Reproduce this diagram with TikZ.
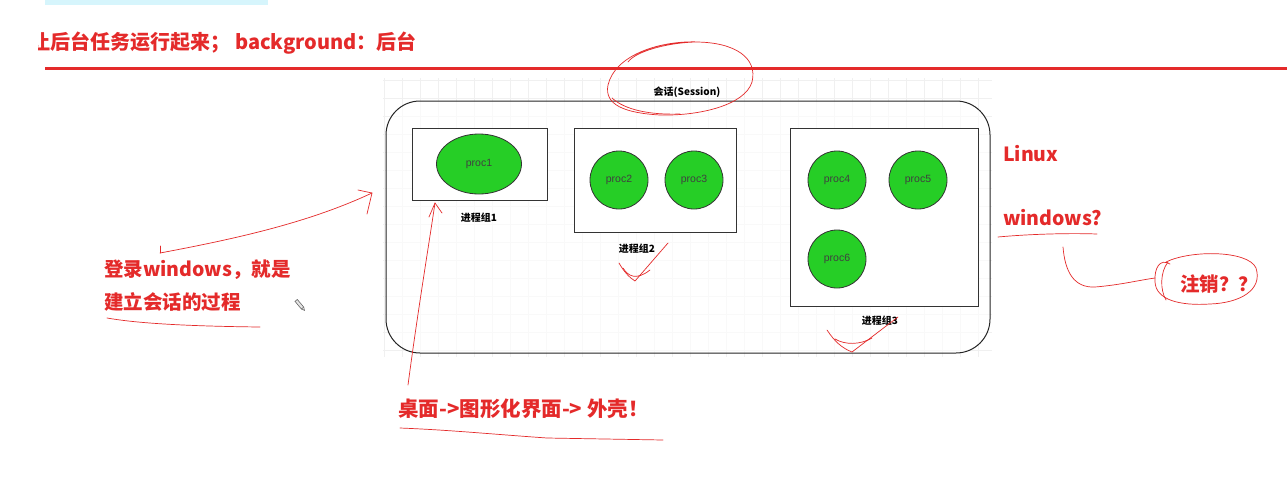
\documentclass[tikz,border=0pt]{standalone}
\usepackage{fontspec}
\setmainfont{Liberation Sans}
\newfontfamily\cjk{Noto Sans CJK SC}
\usetikzlibrary{shapes.geometric}
\definecolor{hand}{RGB}{228,42,42}
\definecolor{pgreen}{RGB}{38,206,38}
\definecolor{cyanbar}{RGB}{214,245,252}
\begin{document}
\begin{tikzpicture}[x=1pt,y=-1pt,
 redtxt/.style={text=hand, font=\cjk\bfseries\fontsize{19.5}{22}\selectfont, inner sep=0pt},
 proc/.style={circle, draw=black!80, fill=pgreen, minimum size=58pt, inner sep=0pt, font=\fontsize{10.5}{12}\selectfont, text=black!75, line width=0.8pt},
 grp/.style={draw=black!80, line width=0.8pt},
 glabel/.style={font=\cjk\bfseries\fontsize{10}{12}\selectfont, inner sep=0pt},
 pen/.style={draw=hand, line width=0.7pt, line cap=round, line join=round},
]
\useasboundingbox (0,0) rectangle (1287,477);
\fill[white] (0,0) rectangle (1287,477);
% top cyan bar
\fill[cyanbar] (45,0) rectangle (268,5);
% title with clipped first character
\begin{scope}
\clip (38,20) rectangle (600,66);
\node[redtxt, font=\cjk\bfseries\fontsize{20}{22}\selectfont, anchor=east] (title) at (417,43) {让后台任务运行起来； background：后台};
\end{scope}
\draw[hand, line width=3pt] (45,68) -- (1287,68);
% faint grid
\foreach \gx in {384,402,...,990} \draw[black!6, line width=0.4pt] (\gx,78) -- (\gx,357);
\foreach \gy in {80,98,...,356} \draw[black!6, line width=0.4pt] (383,\gy) -- (992,\gy);
% session
\node[draw=black!85, line width=1pt, rounded corners=34pt, minimum width=604pt, minimum height=252pt, fill=white, fill opacity=0.6] (session) at (688,227) {};
\node[glabel] (slabel) at (687,92) {会话(Session)};
% groups
\node[grp, fill=white, minimum width=135pt, minimum height=72pt] (g1) at (479.5,164) {};
\node[grp, fill=white, minimum width=162pt, minimum height=104pt] (g2) at (655,180) {};
\node[grp, fill=white, minimum width=188pt, minimum height=178pt] (g3) at (884,217) {};
\node[glabel] (l1) at (479,218) {进程组1};
\node[glabel] (l2) at (637,249) {进程组2};
\node[glabel] (l3) at (880,321) {进程组3};
% processes
\node[proc, ellipse, minimum width=85pt, minimum height=60pt] (p1) at (479,164) {proc1};
\node[proc] (p2) at (619,180) {proc2};
\node[proc] (p3) at (694,180) {proc3};
\node[proc] (p4) at (837,180) {proc4};
\node[proc] (p5) at (918,180) {proc5};
\node[proc] (p6) at (837,259) {proc6};
% red annotations
\node[redtxt, anchor=west] (linux) at (1003,154) {Linux};
\node[redtxt, anchor=west] (win) at (1003,218) {windows?};
\node[redtxt, anchor=west] (zx) at (1180,284) {注销？？};
\node[redtxt, anchor=west] (login1) at (104,270) {登录windows，就是};
\node[redtxt, anchor=west] (login2) at (104,302) {建立会话的过程};
\node[redtxt, font=\cjk\bfseries\fontsize{20.5}{22}\selectfont, anchor=west] (desk) at (398,409) {桌面->图形化界面-> 外壳！};
% pencil icon
\begin{scope}[shift={(300,305)}, rotate=-50]
\draw[black!60, line width=0.6pt, fill=black!10] (-6,-1.5) rectangle (4,1.5);
\draw[black!60, line width=0.6pt] (4,-1.5) -- (7,0) -- (4,1.5);
\end{scope}
% hand drawn loop around the session label
\coordinate (sl0) at (700,42);
\draw[pen] (sl0) .. controls (660,40) and (615,55) .. (608,85)
  .. controls (604,105) and (625,113) .. (660,115)
  .. controls (700,116) and (745,105) .. (752,82)
  .. controls (758,58) and (735,42) .. (695,42)
  .. controls (665,43) and (635,52) .. (628,62);
\draw[pen] (612,98) .. controls (625,110) and (650,115) .. (680,114);
% arrow login -> session
\coordinate (la) at (160,253);
\coordinate (lb) at (372,193);
\draw[pen] (la) -- (160,246);
\draw[pen] (la) .. controls (240,238) and (310,222) .. (lb);
\draw[pen] (358,190) -- (lb) -- (367,214);
\draw[pen] (107,318) .. controls (130,322) and (170,326) .. (260,327);
% arrow desk -> g1
\coordinate (da) at (408,385);
\coordinate (db) at (435,203);
\draw[pen] (da) .. controls (418,310) and (428,250) .. (db);
\draw[pen] (429,217) -- (db) -- (442,213);
\draw[pen] (400,428) .. controls (450,430) and (490,434) .. (547,438) -- (663,440);
% check marks
\draw[pen] (619,263) .. controls (624,272) and (630,278) .. (635,281) -- (668,243);
\draw[pen] (623,268) .. controls (628,276) and (636,281) .. (650,270);
\draw[pen] (827,330) .. controls (835,342) and (842,348) .. (852,352) -- (898,317);
\draw[pen] (835,339) .. controls (845,345) and (860,345) .. (872,338);
% windows underline and link to the 注销 loop
\draw[pen] (998,237) .. controls (1030,234) and (1070,233) .. (1097,234);
\draw[pen] (1063,247) .. controls (1065,272) and (1074,288) .. (1095,287)
  .. controls (1120,285) and (1140,280) .. (1155,278);
\draw[pen] (1166,262) .. controls (1190,250) and (1248,250) .. (1256,268)
  .. controls (1263,290) and (1240,303) .. (1210,304)
  .. controls (1180,306) and (1156,300) .. (1155,282)
  .. controls (1154,268) and (1160,258) .. (1170,264);
\draw[pen] (1168,262) .. controls (1160,272) and (1160,290) .. (1166,300);
\end{tikzpicture}
\end{document}
